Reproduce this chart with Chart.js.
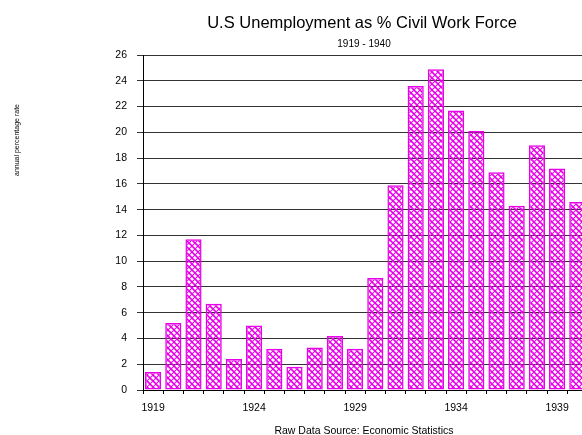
<!DOCTYPE html>
<html>
<head>
<meta charset="utf-8">
<script src="https://cdn.jsdelivr.net/npm/chart.js@4"></script>
<style>
  html, body { margin: 0; padding: 0; background: #fff; overflow: hidden; }
  #wrap { width: 600px; height: 435px; }
</style>
</head>
<body>
<div id="wrap"><canvas id="chart" width="600" height="435"></canvas></div>
<script>
// ── data ──────────────────────────────────────────────
const years = ['1919', '1920', '1921', '1922', '1923', '1924', '1925', '1926', '1927', '1928', '1929',
               '1930', '1931', '1932', '1933', '1934', '1935', '1936', '1937', '1938', '1939', '1940'];
const rates = [1.4, 5.2, 11.7, 6.7, 2.4, 5.0, 3.2, 1.8, 3.3, 4.2, 3.2,
               8.7, 15.9, 23.6, 24.9, 21.7, 20.1, 16.9, 14.3, 19.0, 17.2, 14.6];
const yMax = 26;
const yStep = 2;
const labelEvery = 5;

const titleText = 'U.S Unemployment as % Civil Work Force';
const subtitleText = '1919 - 1940';
const sourceText = 'Raw Data Source: Economic Statistics';
const yLabelText = 'annual percentage rate';

const FONT = 'Arial, "Liberation Sans", sans-serif';
const MAGENTA = '#e800e8';

// cross hatch fill (transparent background so the grid shows through)
function hatch() {
  const c = document.createElement('canvas');
  c.width = 6; c.height = 6;
  const g = c.getContext('2d');
  g.strokeStyle = MAGENTA;
  g.lineWidth = 1.6;
  g.beginPath();
  g.moveTo(-1, -1); g.lineTo(7, 7);
  g.stroke();
  g.lineWidth = 1.1;
  g.beginPath();
  g.moveTo(7, -1); g.lineTo(-1, 7);
  g.stroke();
  return g.createPattern(c, 'repeat');
}

// free text around the plot
const textPlugin = {
  id: 'texts',
  afterDraw(chart) {
    const ctx = chart.ctx;
    ctx.save();
    ctx.fillStyle = '#000';
    ctx.textAlign = 'center';
    ctx.textBaseline = 'alphabetic';
    ctx.font = '16.5px ' + FONT;
    ctx.fillText(titleText, 362, 27.5);
    ctx.font = '10px ' + FONT;
    ctx.fillText(subtitleText, 364, 46.5);
    ctx.font = '10.5px ' + FONT;
    ctx.fillText(sourceText, 364, 434);
    ctx.translate(17, 140);
    ctx.rotate(-Math.PI / 2);
    ctx.font = '7px ' + FONT;
    ctx.textBaseline = 'middle';
    ctx.fillText(yLabelText, 0, 0);
    ctx.restore();
  }
};

new Chart(document.getElementById('chart'), {
  type: 'bar',
  data: {
    labels: years,
    datasets: [{
      data: rates,
      backgroundColor: hatch(),
      borderColor: MAGENTA,
      borderWidth: 1.5,
      borderSkipped: false,
      barPercentage: 0.8,
      categoryPercentage: 1.0
    }]
  },
  options: {
    responsive: false,
    animation: false,
    devicePixelRatio: 1,
    layout: { padding: { top: 55, right: 12.6, left: 0, bottom: 0 } },
    plugins: { legend: { display: false }, tooltip: { enabled: false } },
    scales: {
      x: {
        afterFit: s => { s.height = 45; },
        grid: { display: true, drawOnChartArea: false, drawTicks: true, tickLength: 4, color: '#000' },
        border: { display: true, color: '#000', width: 1 },
        ticks: {
          color: '#000',
          font: { family: FONT, size: 10.5 },
          padding: 8,
          autoSkip: false,
          maxRotation: 0,
          callback: (v, i) => (i % labelEvery === 0 ? years[i] : '')
        }
      },
      y: {
        min: 0,
        max: yMax,
        afterFit: s => { s.width = 143; },
        grid: { color: '#333', lineWidth: 1, tickLength: 6 },
        border: { display: true, color: '#000', width: 1 },
        ticks: {
          stepSize: yStep,
          color: '#000',
          font: { family: FONT, size: 10.5 },
          padding: 10
        }
      }
    }
  },
  plugins: [textPlugin]
});
</script>
</body>
</html>
